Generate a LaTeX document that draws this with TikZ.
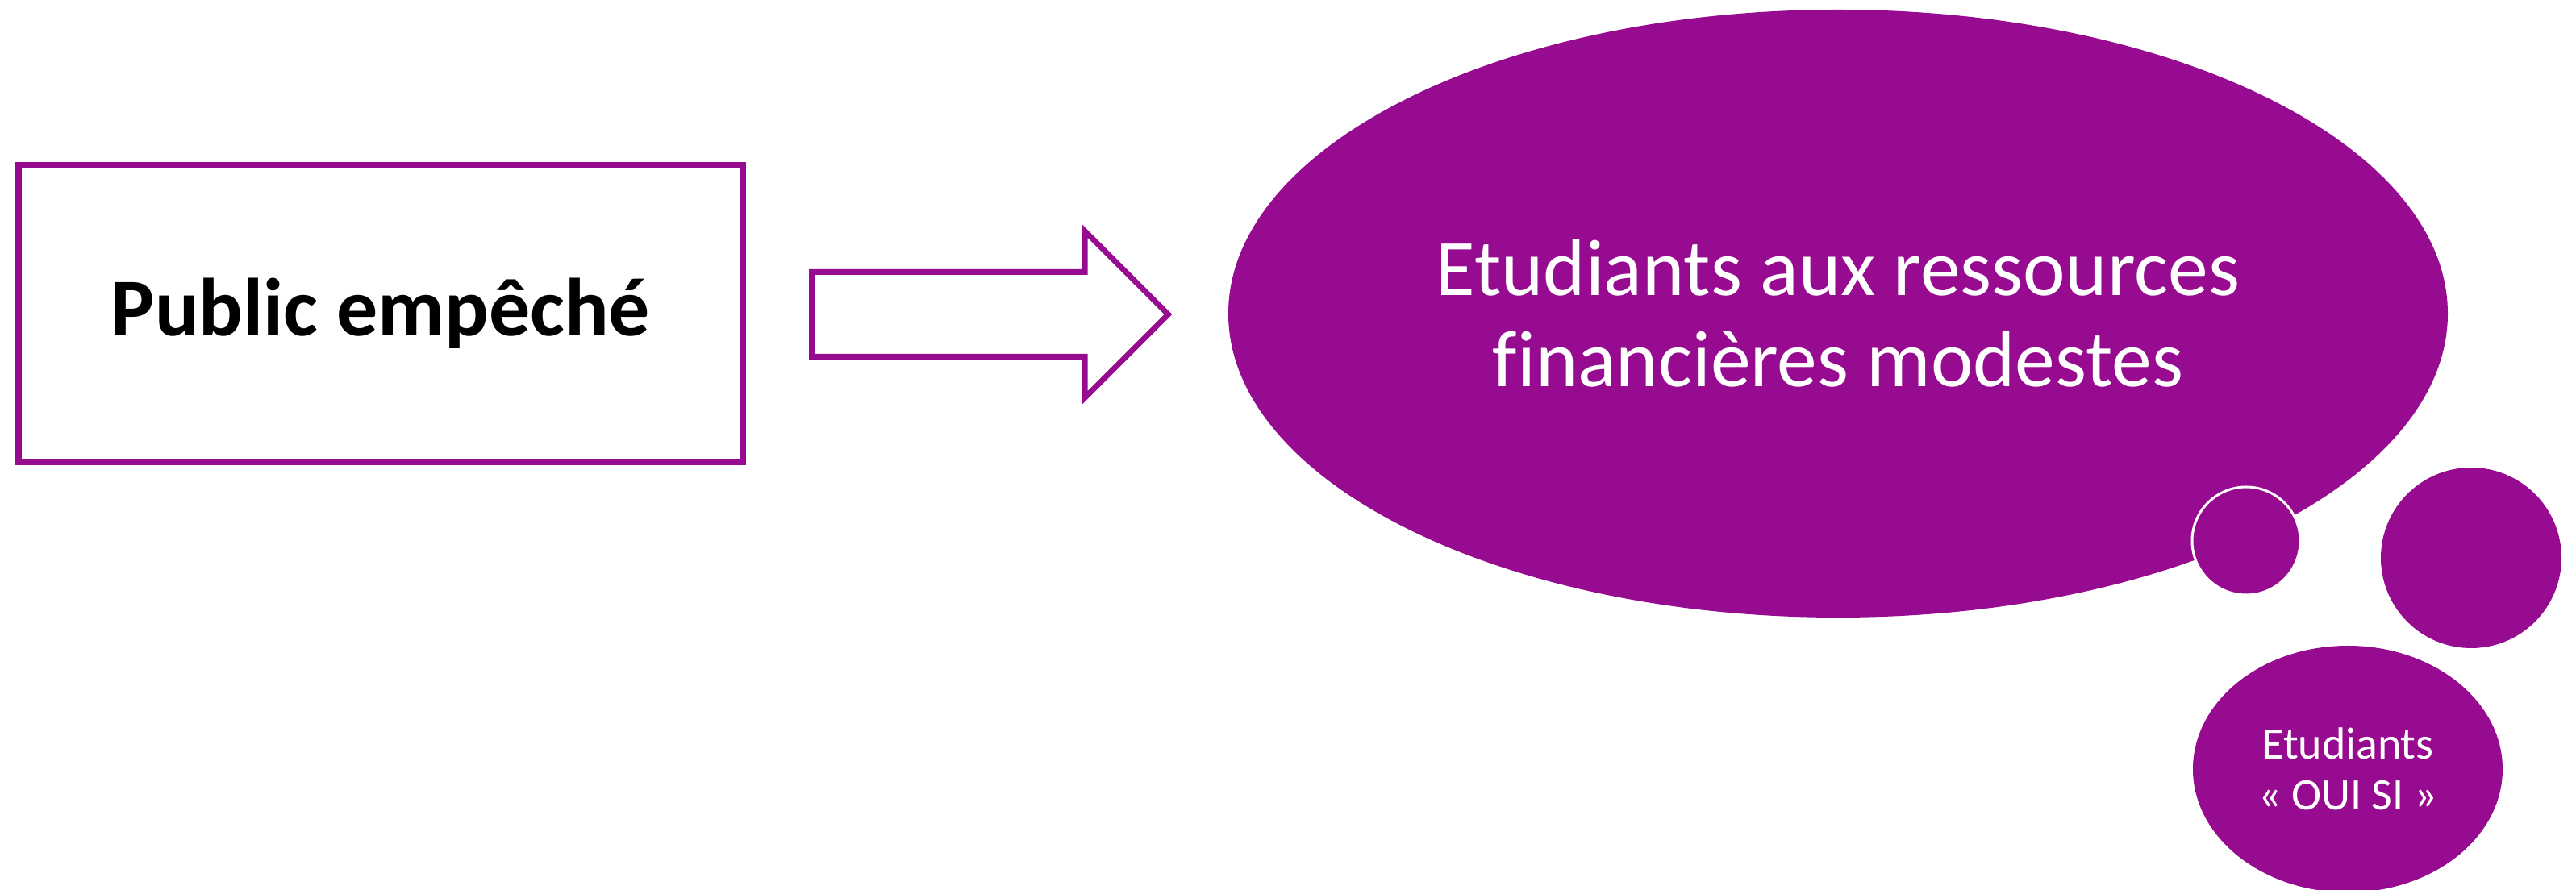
\documentclass[tikz,border=0pt]{standalone}
\usepackage{fontspec}
\setmainfont{Carlito}[Ligatures=NoCommon]
\usetikzlibrary{shapes.geometric, shapes.arrows, positioning}
\definecolor{plum}{HTML}{960B8F}
\tikzset{
    box_public/.style={
        rectangle, draw=plum, line width=0.075cm, fill=white,
        minimum width=8.98cm, minimum height=3.68cm, inner sep=0pt,
        align=center, font=\fontsize{29}{33}\selectfont\bfseries
    },
    arrow_block/.style={
        single arrow, draw=plum, line width=0.07cm, fill=white,
        inner xsep=0pt, inner ysep=0.49cm, minimum height=4.42cm,
        single arrow head extend=0.51cm, single arrow tip angle=90
    },
    bubble_big/.style={
        ellipse, fill=plum, text=white, inner sep=0pt,
        minimum width=15.12cm, minimum height=7.54cm,
        align=center, font=\fontsize{28.3}{32.3}\selectfont
    },
    bubble_dot/.style={
        circle, fill=plum, inner sep=0pt
    },
    bubble_small/.style={
        ellipse, fill=plum, text=white, inner sep=0pt,
        minimum width=3.84cm, minimum height=3.06cm,
        align=center, font=\fontsize{15.9}{18.1}\selectfont
    }
}

\begin{document}
\begin{tikzpicture}

    \useasboundingbox (0,0) rectangle (31.94,-11.04);

    % --- Left: target public ---
    \node[box_public] (public) at (4.72, -3.89) {Public empêché};

    % --- Block arrow ---
    \node[arrow_block, anchor=tail] (fleche) at (10.03, -3.90) {};

    % --- Thought bubble ---
    \node[bubble_big] (ressources) at (22.79, -3.89) {
        Etudiants aux ressources\\
        financières modestes
    };

    \node[bubble_dot, minimum size=1.34cm, draw=white, line width=0.03cm] (bulle1) at (27.85, -6.71) {};
    \node[bubble_dot, minimum size=2.24cm] (bulle2) at (30.64, -6.92) {};

    \node[bubble_small] (ouisi) at (29.11, -9.54) {
        Etudiants\\
        « OUI SI »
    };

\end{tikzpicture}
\end{document}
